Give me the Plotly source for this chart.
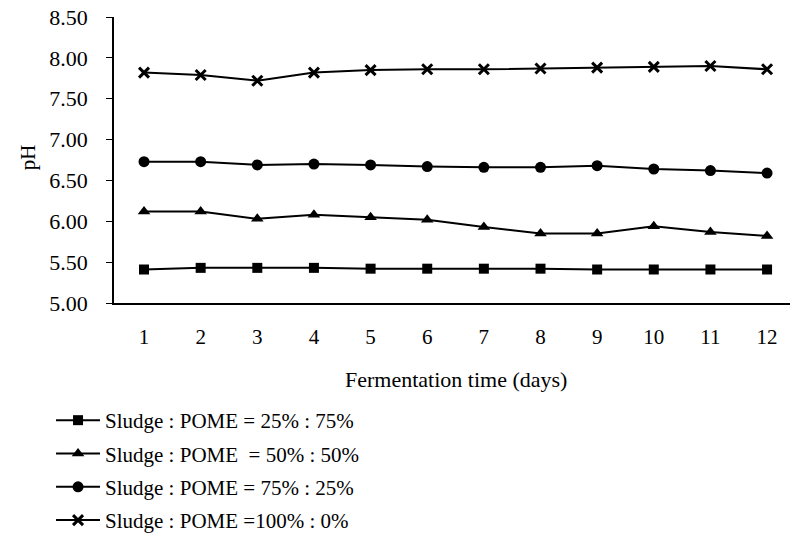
import plotly.graph_objects as go

days = [1, 2, 3, 4, 5, 6, 7, 8, 9, 10, 11, 12]
ph_25_75 = [5.41, 5.43, 5.43, 5.43, 5.42, 5.42, 5.42, 5.42, 5.41, 5.41, 5.41, 5.41]
ph_50_50 = [6.12, 6.12, 6.03, 6.08, 6.05, 6.02, 5.93, 5.85, 5.85, 5.94, 5.87, 5.82]
ph_75_25 = [6.73, 6.73, 6.69, 6.70, 6.69, 6.67, 6.66, 6.66, 6.68, 6.64, 6.62, 6.59]
ph_100_0 = [7.82, 7.79, 7.72, 7.82, 7.85, 7.86, 7.86, 7.87, 7.88, 7.89, 7.90, 7.86]

names = ["Sludge : POME = 25% : 75%",
         "Sludge : POME  = 50% : 50%",
         "Sludge : POME = 75% : 25%",
         "Sludge : POME =100% : 0%"]
series = [ph_25_75, ph_50_50, ph_75_25, ph_100_0]
symbols = ["square", "triangle-up", "circle", "x-thin-open"]
sizes = [10, 11, 11, 10]
y_ticks = [5.0, 5.5, 6.0, 6.5, 7.0, 7.5, 8.0, 8.5]

FONT = "Liberation Serif, Times New Roman, serif"

fig = go.Figure()
for i, (n, s, sym, sz) in enumerate(zip(names, series, symbols, sizes)):
    marker = dict(symbol=sym, size=sz, color="black")
    if sym == "x-thin-open":
        marker["line"] = dict(width=3, color="black")
    fig.add_trace(go.Scatter(
        x=days, y=s, mode="lines+markers", name=n, legendgroup=str(i),
        line=dict(color="black", width=2), marker=marker))

fig.update_layout(
    width=790, height=536,
    margin=dict(l=114, r=0, t=17, b=233, autoexpand=False),
    paper_bgcolor="white", plot_bgcolor="white",
    font=dict(family=FONT, size=21, color="black"),
    showlegend=True,
    legend=dict(xref="container", yref="container", x=0.0646, y=0.2537,
                xanchor="left", yanchor="top", traceorder="grouped",
                tracegroupgap=3, itemwidth=44,
                font=dict(family=FONT, size=21, color="black")),
    xaxis=dict(range=[0.47, 12.405], tickmode="array", tickvals=days,
               ticktext=[str(d) for d in days], showgrid=False, zeroline=False,
               showline=True, linecolor="black", linewidth=1.5, ticks="",
               ticklabelstandoff=14, automargin=False,
               tickfont=dict(family=FONT, size=21)),
    yaxis=dict(range=[5.0, 8.5], tickmode="array",
               tickvals=y_ticks,
               ticktext=["%.2f" % v for v in y_ticks],
               showgrid=False, zeroline=False, showline=True, linecolor="black",
               linewidth=1.5, ticks="outside", ticklen=6, tickcolor="black",
               ticklabelstandoff=14, automargin=False,
               ticklabeloverflow="allow",
               tickfont=dict(family=FONT, size=22)),
    annotations=[
        dict(text="Fermentation time (days)", xref="paper", yref="paper",
             x=0.506, y=-0.269, xanchor="center", yanchor="middle",
             showarrow=False, font=dict(family=FONT, size=22)),
        dict(text="pH", xref="paper", yref="paper", x=-0.1272, y=0.51,
             xanchor="center", yanchor="middle", textangle=-90,
             showarrow=False, font=dict(family=FONT, size=21)),
    ],
)

fig.write_html("out.html",
               config={"displayModeBar": False},
               post_script="document.body.style.margin='0';document.body.style.padding='0';")
